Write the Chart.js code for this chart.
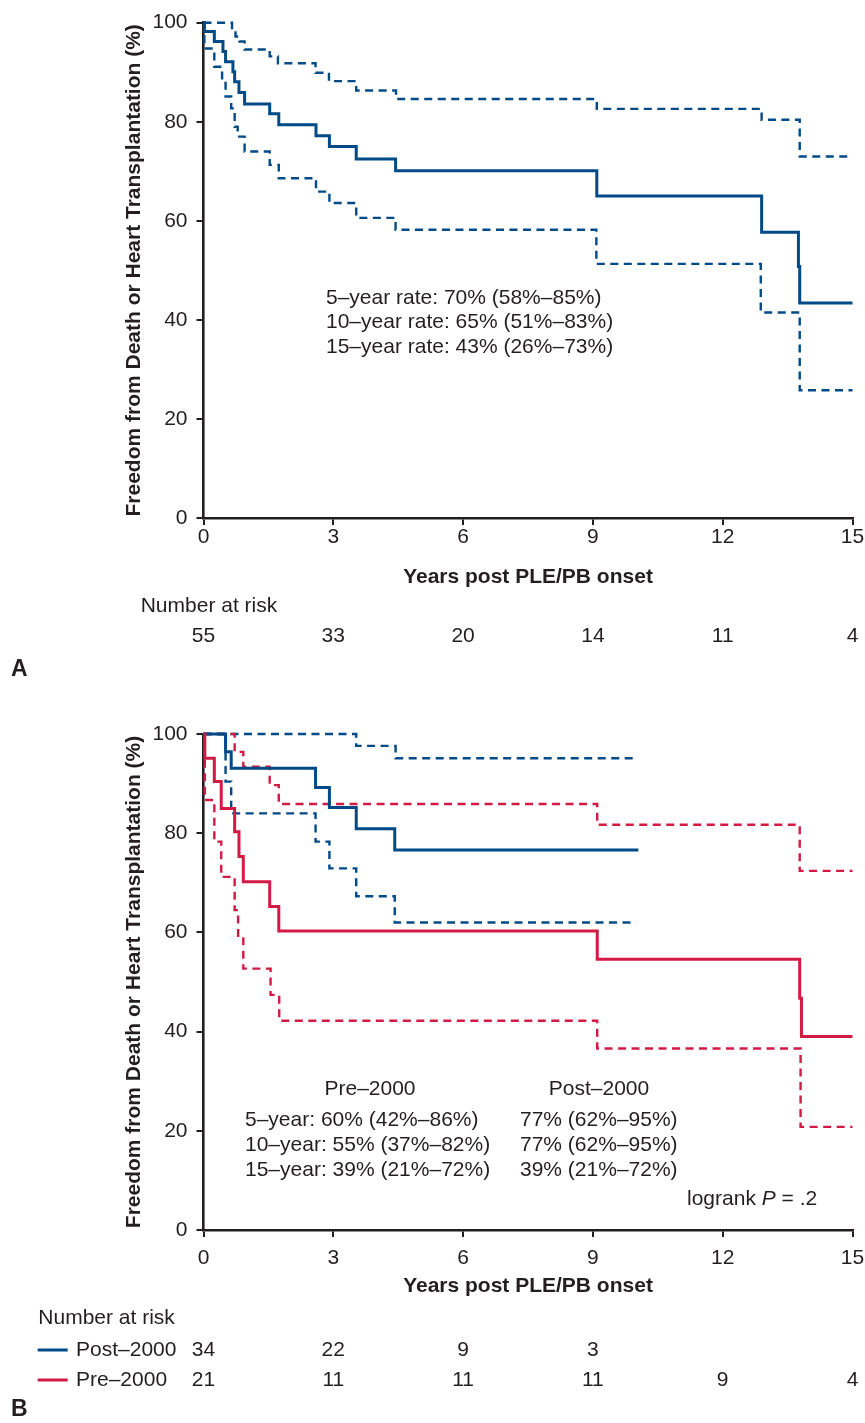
<!DOCTYPE html>
<html>
<head>
<meta charset="utf-8">
<script src="https://cdn.jsdelivr.net/npm/chart.js@4.4.0/dist/chart.umd.min.js"></script>
<style>
  body { margin: 0; background: #fff; }
  #wrap { position: relative; width: 865px; height: 1423px; }
  canvas { position: absolute; left: 0; }
</style>
</head>
<body>
<div id="wrap">
  <canvas id="chartA" width="865" height="700" style="top:0;width:865px;height:700px"></canvas>
  <canvas id="chartB" width="865" height="723" style="top:700px;width:865px;height:723px"></canvas>
</div>
<script>
const TEXT = '#231f20';
const BLUE = '#004a87';
const RED = '#d31a45';
const FONT = '"Liberation Sans", Arial, Helvetica, sans-serif';

// ---- panel A: all patients ----
const timesA = [0, 0.02, 0.25, 0.45, 0.51, 0.68, 0.72, 0.82, 0.95, 1.53, 1.74, 2.60, 2.91, 3.53, 4.44, 9.09, 12.90, 13.75, 13.78, 15];
const survA  = [100, 98.2, 96.2, 94.2, 92.1, 90.1, 88.1, 85.9, 83.6, 81.6, 79.4, 77.2, 75.0, 72.5, 70.1, 65.0, 57.7, 50.8, 43.4, 43.4];
const upperTimesA = [0, 0.66, 0.74, 0.83, 0.95, 1.53, 1.72, 2.59, 2.90, 3.53, 4.45, 9.09, 12.90, 13.78, 15];
const upperA      = [100, 98.5, 97.2, 96.2, 94.6, 93.2, 91.8, 89.9, 88.2, 86.3, 84.6, 82.6, 80.4, 73.0, 73.0];
const lowerTimesA = [0, 0.02, 0.25, 0.43, 0.51, 0.64, 0.72, 0.79, 0.95, 1.53, 1.74, 2.60, 2.91, 3.53, 4.44, 9.08, 12.88, 13.78, 15];
const lowerA      = [100, 94.8, 91.1, 88.4, 85.1, 82.7, 79.0, 77.0, 74.0, 71.3, 68.6, 65.9, 63.6, 60.6, 58.2, 51.3, 41.5, 25.8, 25.8];
const riskYears = [0, 3, 6, 9, 12, 15];
const riskA = [55, 33, 20, 14, 11, 4];
const ratesA = ['5–year rate: 70% (58%–85%)', '10–year rate: 65% (51%–83%)', '15–year rate: 43% (26%–73%)'];

// ---- panel B: Post-2000 vs Pre-2000 ----
const timesPost = [0, 0.51, 0.64, 2.59, 2.91, 3.53, 4.42, 10.05];
const survPost  = [100, 96.4, 93.1, 89.2, 85.2, 80.9, 76.6, 76.6];
const upperTimesPost = [0, 3.53, 4.44, 10.0];
const upperPost      = [100, 97.6, 95.1, 95.1];
const lowerTimesPost = [0, 0.51, 0.64, 2.59, 2.91, 3.53, 4.42, 10.0];
const lowerPost      = [100, 90.4, 84.0, 78.3, 72.9, 67.3, 62.0, 62.0];

const timesPre = [0, 0.03, 0.25, 0.41, 0.72, 0.82, 0.92, 1.53, 1.74, 9.10, 13.78, 13.82, 15];
const survPre  = [100, 95.1, 90.4, 85.0, 80.3, 75.3, 70.2, 65.2, 60.3, 54.6, 46.7, 39.0, 39.0];
const upperTimesPre = [0, 0.72, 0.92, 1.53, 1.74, 9.10, 13.78, 15];
const upperPre      = [100, 96.4, 93.4, 89.7, 85.9, 81.7, 72.4, 72.4];
const lowerTimesPre = [0, 0.03, 0.25, 0.41, 0.72, 0.80, 0.92, 1.55, 1.75, 9.10, 13.80, 15];
const lowerPre      = [100, 86.7, 78.3, 71.2, 64.5, 58.8, 52.7, 47.4, 42.2, 36.6, 20.8, 20.8];

const riskPost = [34, 22, 9, 3];
const riskPre = [21, 11, 11, 11, 9, 4];
const ratesPre = ['5–year: 60% (42%–86%)', '10–year: 55% (37%–82%)', '15–year: 39% (21%–72%)'];
const ratesPost = ['77% (62%–95%)', '77% (62%–95%)', '39% (21%–72%)'];

function curve(times, vals, color, dashed) {
    return {
        data: times.map((t, i) => ({ x: t, y: vals[i] })),
        borderColor: color,
        borderWidth: dashed ? 2.4 : 3,
        borderDash: dashed ? [8, 5.5] : [],
        stepped: 'before',
        pointRadius: 0,
        fill: false,
        clip: false,
        tension: 0
    };
}

function text(ctx, s, x, y, align, font) {
    ctx.font = font || '21px ' + FONT;
    ctx.textAlign = align || 'left';
    ctx.fillText(s, x, y);
}

// geometry of each panel (pixels inside its canvas)
function buildOptions(geo) {
    const tickFont = { family: FONT, size: 21, lineHeight: 1 };
    const xTickFont = { family: FONT, size: 21, lineHeight: geo.xTickLine };
    const titleFont = { family: FONT, size: 21, weight: 'bold', lineHeight: 1.2 };
    const grid = { drawOnChartArea: false, drawTicks: true, tickLength: 7, tickWidth: 2, tickColor: TEXT, color: TEXT, lineWidth: 2 };
    const border = { display: true, color: TEXT, width: 2.6 };
    return {
        responsive: false,
        animation: false,
        devicePixelRatio: 1,
        layout: { padding: { left: 0, right: 865 - geo.right, top: geo.top, bottom: geo.h - geo.bottom - geo.xAxisH } },
        plugins: { legend: { display: false }, tooltip: { enabled: false } },
        scales: {
            x: {
                type: 'linear', min: 0, max: 15,
                ticks: { stepSize: 3, padding: 0.8, font: xTickFont, color: TEXT, maxRotation: 0 },
                grid: grid, border: border,
                title: { display: true, text: 'Years post PLE/PB onset', font: titleFont, color: TEXT, padding: { top: 0, bottom: 0 } },
                afterFit: (s) => { s.height = geo.xAxisH; }
            },
            y: {
                type: 'linear', min: 0, max: 100,
                ticks: { stepSize: 20, padding: 9, font: tickFont, color: TEXT },
                grid: grid, border: border,
                title: { display: true, text: 'Freedom from Death or Heart Transplantation (%)', font: titleFont, color: TEXT, padding: { top: 122, bottom: 0 } },
                afterFit: (s) => { s.width = geo.left; }
            }
        }
    };
}

// Panel A
new Chart(document.getElementById('chartA'), {
    type: 'line',
    data: {
        datasets: [
            curve(timesA, survA, BLUE, false),
            curve(upperTimesA, upperA, BLUE, true),
            curve(lowerTimesA, lowerA, BLUE, true)
        ]
    },
    options: buildOptions({ h: 700, left: 203.5, right: 852.5, top: 22.7, bottom: 518, xAxisH: 71.6, xTickLine: 1.04 }),
    plugins: [{
        id: 'textA',
        afterDraw(chart) {
            const ctx = chart.ctx;
            const x = chart.scales.x;
            ctx.save();
            ctx.fillStyle = TEXT;
            ctx.textBaseline = 'middle';
            ratesA.forEach((s, i) => text(ctx, s, 326, 298 + i * 24.5));
            text(ctx, 'Number at risk', 140.7, 606.7);
            riskA.forEach((n, i) => text(ctx, String(n), x.getPixelForValue(riskYears[i]), 636.7, 'center'));
            text(ctx, 'A', 11, 670, 'left', 'bold 23px ' + FONT);
            ctx.restore();
        }
    }]
});

// Panel B
new Chart(document.getElementById('chartB'), {
    type: 'line',
    data: {
        datasets: [
            curve(timesPre, survPre, RED, false),
            curve(timesPost, survPost, BLUE, false),
            curve(upperTimesPre, upperPre, RED, true),
            curve(lowerTimesPre, lowerPre, RED, true),
            curve(upperTimesPost, upperPost, BLUE, true),
            curve(lowerTimesPost, lowerPost, BLUE, true)
        ]
    },
    options: buildOptions({ h: 723, left: 203.5, right: 852.5, top: 34, bottom: 530, xAxisH: 69.3, xTickLine: 1.94 }),
    plugins: [{
        id: 'textB',
        afterDraw(chart) {
            const ctx = chart.ctx;
            const x = chart.scales.x;
            const reg = '21px ' + FONT;
            ctx.save();
            ctx.fillStyle = TEXT;
            ctx.textBaseline = 'middle';
            text(ctx, 'Pre–2000', 370, 389, 'center');
            text(ctx, 'Post–2000', 599, 389, 'center');
            ratesPre.forEach((s, i) => text(ctx, s, 245, 420 + i * 25));
            ratesPost.forEach((s, i) => text(ctx, s, 520, 420 + i * 25));

            // logrank P = .2 with italic P
            let lx = 687;
            text(ctx, 'logrank ', lx, 499.3);
            ctx.font = reg; lx += ctx.measureText('logrank ').width;
            text(ctx, 'P', lx, 499.3, 'left', 'italic 21px ' + FONT);
            ctx.font = 'italic 21px ' + FONT; lx += ctx.measureText('P').width;
            text(ctx, ' = .2', lx, 499.3);

            text(ctx, 'Number at risk', 38.3, 618);
            const rows = [
                { label: 'Post–2000', color: BLUE, vals: riskPost, y: 650 },
                { label: 'Pre–2000', color: RED, vals: riskPre, y: 680 }
            ];
            rows.forEach(r => {
                ctx.strokeStyle = r.color;
                ctx.lineWidth = 3;
                ctx.beginPath();
                ctx.moveTo(37.7, r.y);
                ctx.lineTo(67.7, r.y);
                ctx.stroke();
                text(ctx, r.label, 76, r.y);
                r.vals.forEach((n, i) => text(ctx, String(n), x.getPixelForValue(riskYears[i]), r.y, 'center'));
            });
            text(ctx, 'B', 11, 710, 'left', 'bold 23px ' + FONT);
            ctx.restore();
        }
    }]
});
</script>
</body>
</html>
